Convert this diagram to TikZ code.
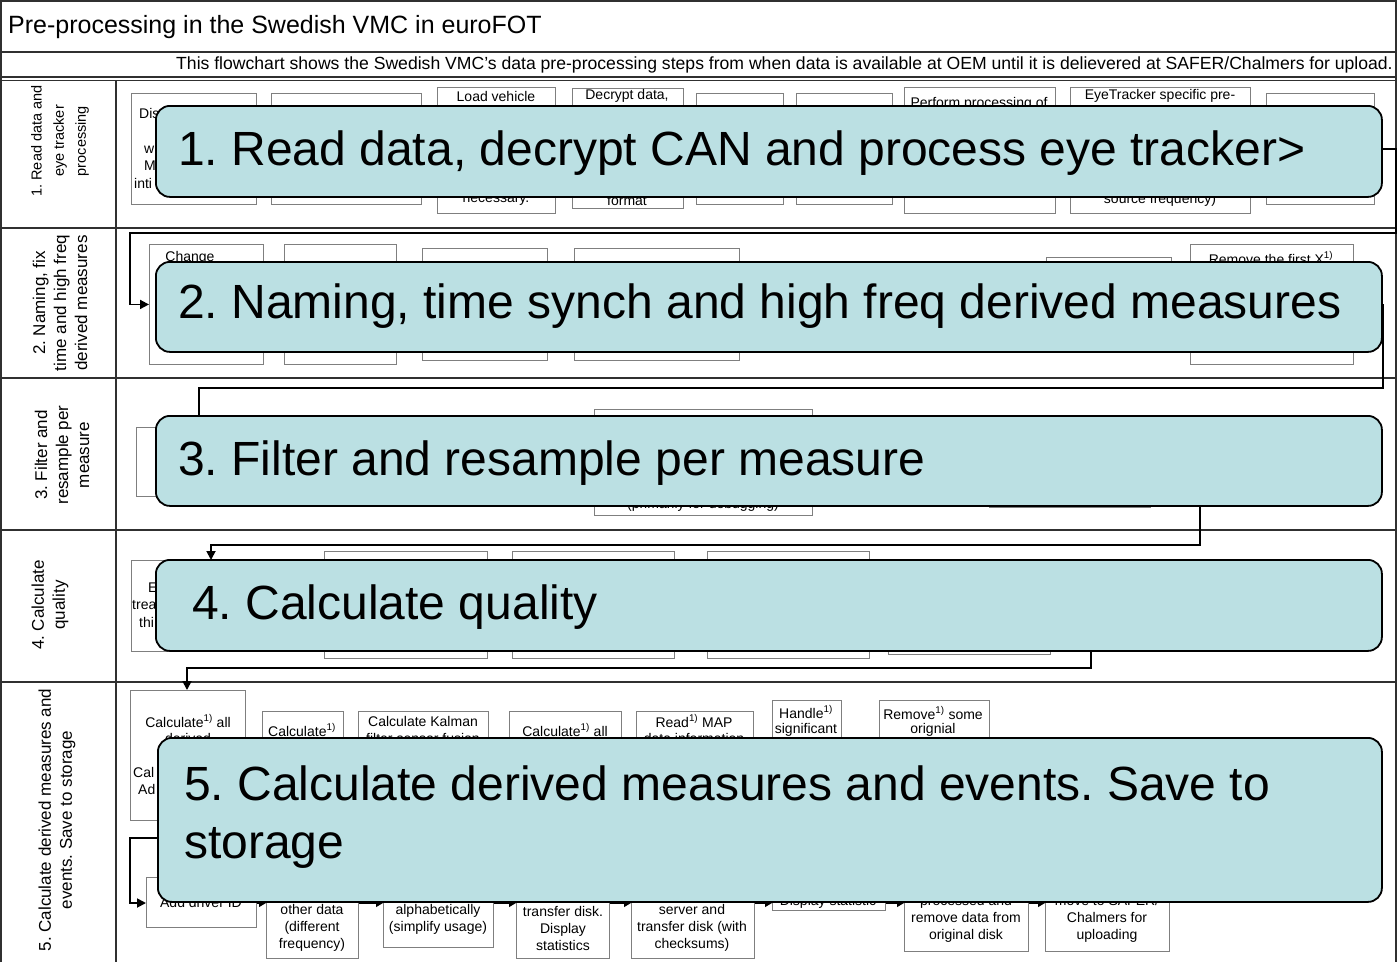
\documentclass[tikz,border=0pt]{standalone}
\usepackage{fontspec}
\setmainfont{Liberation Sans}
\usetikzlibrary{arrows.meta}
\definecolor{callfill}{HTML}{BBE0E3}
\definecolor{boxline}{HTML}{7F7F7F}
\definecolor{gridline}{HTML}{303030}
\newcommand\supone{\textsuperscript{1)}}
\newcommand\mkbox[5]{\node[box, minimum width={(#4-#2)*1pt}, minimum height={(#5-#3)*1pt}] (#1) at (#2,#3) {};}
\frenchspacing
\begin{document}
\begin{tikzpicture}[x=1pt,y=-1pt,
  box/.style={draw=boxline, line width=0.9pt, fill=white, inner sep=0pt, anchor=north west},
  txt/.style={font=\fontsize{14}{17}\selectfont, inner sep=0pt, align=center},
  lanetxt/.style={font=\fontsize{17}{21}\selectfont, inner sep=0pt, align=center, rotate=90},
  grid/.style={draw=gridline, line width=1.2pt},
  conn/.style={draw=black, line width=1.8pt, -{Triangle[length=9pt,width=9pt]}},
  small/.style={draw=black, line width=1pt, -{Triangle[length=7pt,width=8pt]}},
  callout/.style={draw=black, line width=1.8pt, fill=callfill, rounded corners=14pt, anchor=north west, inner sep=0pt},
  bigtxt/.style={font=\fontsize{48}{58}\selectfont, inner sep=0pt, anchor=west, align=left}
]
\useasboundingbox (0,0) rectangle (1398,962);
\fill[white] (0,0) rectangle (1398,962);
% frame and lanes
\draw[grid] (1,962) -- (1,1) -- (1396,1) -- (1396,962);
\draw[grid] (1,52) -- (1396,52);
\draw[grid] (1,77) -- (1396,77);
\draw[grid, line width=0.8pt] (1,80) -- (1396,80);
\draw[grid] (1,228) -- (1396,228);
\draw[grid] (1,378) -- (1396,378);
\draw[grid] (1,530) -- (1396,530);
\draw[grid] (1,682) -- (1396,682);
\draw[grid] (116,80) -- (116,962);
\node[font=\fontsize{25}{28}\selectfont, anchor=west, inner sep=0pt] (title) at (8,27) {Pre-processing in the Swedish VMC in euroFOT};
\node[font=\fontsize{17.6}{20}\selectfont, anchor=east, inner sep=0pt] (subtitle) at (1393,65) {This flowchart shows the Swedish VMC’s data pre-processing steps from when data is available at OEM until it is delievered at SAFER/Chalmers for upload.};
\node[lanetxt, font=\fontsize{14.5}{22}\selectfont] (lane1) at (60,141) {1. Read data and\\eye tracker\\processing};
\node[lanetxt] (lane2) at (60,303) {2. Naming, fix\\time and high freq\\derived measures};
\node[lanetxt] (lane3) at (62,455) {3. Filter and\\resample per\\measure};
\node[lanetxt] (lane4) at (50,605) {4. Calculate\\quality};
\node[lanetxt] (lane5) at (57,820) {5. Calculate derived measures and\\events. Save to storage};
% lane 1 boxes
\mkbox{b1a}{131}{93}{256}{204}
\mkbox{b1b}{271}{93}{421}{204}
\mkbox{b1c}{437}{87}{555}{213}
\mkbox{b1d}{572}{88}{683}{208}
\mkbox{b1e}{696}{93}{783}{204}
\mkbox{b1f}{796}{93}{892}{204}
\mkbox{b1g}{904}{87}{1055}{213}
\mkbox{b1h}{1070}{87}{1250}{213}
\mkbox{b1i}{1266}{93}{1374}{204}
\node[txt, anchor=west] (t1a1) at (139,113) {Dis};
\node[txt, anchor=west] (t1a2) at (144,150) {w};
\node[txt, anchor=west] (t1a3) at (144,166) {M};
\node[txt, anchor=west] (t1a4) at (134,183) {inti};
\node[txt] (t1c1) at (496,96) {Load vehicle};
\node[txt] (t1c2) at (496,200) {necessary.};
\node[txt] (t1d1) at (627,96) {Decrypt data,};
\node[txt] (t1d2) at (627,200) {format};
\node[txt] (t1g1) at (979,104) {Perform processing of};
\node[txt] (t1h1) at (1160,96) {EyeTracker specific pre-};
\node[txt] (t1h2) at (1160,200) {source frequency)};
% lane 2 boxes
\mkbox{b2a}{149}{244}{263}{364}
\mkbox{b2b}{284}{244}{396}{364}
\mkbox{b2c}{422}{248}{547}{360}
\mkbox{b2d}{574}{248}{739}{360}
\mkbox{b2e}{1046}{257}{1171}{352}
\mkbox{b2f}{1190}{244}{1353}{364}
\node[txt] (t2a1) at (190,258) {Change};
\node[txt] (t2f1) at (1271,258) {Remove the first X\supone};
% lane 3 boxes
\mkbox{b3a}{136}{427}{300}{496}
\mkbox{b3b}{594}{409}{812}{515}
\mkbox{b3c}{989}{420}{1150}{507}
\node[txt] (t3b1) at (703,505) {(primarily for debugging)};
% lane 4 boxes
\mkbox{b4a}{131}{560}{291}{651}
\mkbox{b4b}{324}{551}{487}{658}
\mkbox{b4c}{512}{551}{674}{658}
\mkbox{b4d}{707}{551}{869}{658}
\mkbox{b4e}{888}{565}{1050}{654}
\node[txt, anchor=west] (t4a1) at (148,588) {E};
\node[txt, anchor=west] (t4a2) at (132,605) {trea};
\node[txt, anchor=west] (t4a3) at (139,622) {thi};
% lane 5 boxes
\mkbox{b5a}{130}{690}{245}{820}
\mkbox{b5b}{262}{711}{343}{800}
\mkbox{b5c}{358}{711}{488}{800}
\mkbox{b5d}{509}{711}{621}{800}
\mkbox{b5e}{636}{711}{753}{800}
\mkbox{b5f}{772}{700}{841}{800}
\mkbox{b5g}{879}{700}{989}{800}
\mkbox{b5h}{146}{877}{256}{927}
\mkbox{b5i}{266}{870}{358}{958}
\mkbox{b5j}{383}{870}{493}{947}
\mkbox{b5k}{516}{870}{609}{958}
\mkbox{b5l}{631}{870}{754}{958}
\mkbox{b5m}{772}{870}{885}{910}
\mkbox{b5n}{904}{870}{1028}{951}
\mkbox{b5o}{1045}{870}{1169}{951}
\node[txt] (t5a1) at (188,721) {Calculate\supone{} all};
\node[txt] (t5a2) at (188,738) {derived};
\node[txt, anchor=west] (t5a3) at (133,772) {Cal};
\node[txt, anchor=west] (t5a4) at (138,789) {Ad};
\node[txt] (t5b1) at (302,730) {Calculate\supone};
\node[txt] (t5c1) at (423,721) {Calculate Kalman};
\node[txt] (t5c2) at (423,738) {filter sensor fusion};
\node[txt] (t5d1) at (565,730) {Calculate\supone{} all};
\node[txt] (t5e1) at (694,721) {Read\supone{} MAP};
\node[txt] (t5e2) at (694,738) {data information};
\node[txt] (t5f1) at (806,712) {Handle\supone};
\node[txt] (t5f2) at (806,730) {significant};
\node[txt] (t5g1) at (933,713) {Remove\supone{} some};
\node[txt] (t5g2) at (933,730) {orignial};
\node[txt] (t5h1) at (201,902) {Add driver ID};
\node[txt] (t5i) at (312,928) {other data\\(different\\frequency)};
\node[txt] (t5j) at (438,919.5) {alphabetically\\(simplify usage)};
\node[txt] (t5k) at (563,928) {transfer disk.\\Display\\statistics};
\node[txt] (t5l) at (692,928) {server and\\transfer disk (with\\checksums)};
\node[txt] (t5m) at (828,902) {Display statistic};
\node[txt] (t5n) at (966,919) {processed and\\remove data from\\original disk};
\node[txt] (t5o) at (1107,919) {move to SAFER/\\Chalmers for\\uploading};
% connectors
\coordinate (k12) at (130,233);
\coordinate (k23) at (199,388);
\coordinate (k34) at (211,545);
\coordinate (k45) at (187,668);
\coordinate (k55) at (130,838);
\coordinate (ya) at (0,903);
\draw[conn] (b1i.east) -- ++(21,0) |- (k12) |- (b2a.west);
\draw[conn] (b2f.east) -- ++(29,0) |- (k23) -- (k23 |- b3a.north);
\draw[conn] (b3c.east) -- ++(49,0) |- (k34) -- (k34 |- b4a.north);
\draw[conn] (b4e.east) -- ++(40,0) |- (k45) -- (k45 |- b5a.north);
\draw[conn] (b5g.south) |- (k55) |- (b5h.west |- ya);
\draw[small] (b5h.east |- ya) -- (b5i.west |- ya);
\draw[small] (b5i.east |- ya) -- (b5j.west |- ya);
\draw[small] (b5j.east |- ya) -- (b5k.west |- ya);
\draw[small] (b5k.east |- ya) -- (b5l.west |- ya);
\draw[small] (b5l.east |- ya) -- (b5m.west |- ya);
\draw[small] (b5m.east |- ya) -- (b5n.west |- ya);
\draw[small] (b5n.east |- ya) -- (b5o.west |- ya);
% callouts
\node[callout, minimum width=1226pt, minimum height=91pt] (o1) at (155,105) {};
\node[bigtxt] (o1t) at (178,153) {1. Read data, decrypt CAN and process eye tracker>};
\node[callout, minimum width=1226pt, minimum height=90pt] (o2) at (155,261) {};
\node[bigtxt] (o2t) at (178,306) {2. Naming, time synch and high freq derived measures};
\node[callout, minimum width=1226pt, minimum height=90pt] (o3) at (155,415) {};
\node[bigtxt] (o3t) at (178,463) {3. Filter and resample per measure};
\node[callout, minimum width=1226pt, minimum height=91pt] (o4) at (155,559) {};
\node[bigtxt] (o4t) at (192,607) {4. Calculate quality};
\node[callout, minimum width=1224pt, minimum height=164pt] (o5) at (157,737) {};
\node[bigtxt] (o5t) at (184,817) {5. Calculate derived measures and events. Save to\\storage};
\end{tikzpicture}
\end{document}
